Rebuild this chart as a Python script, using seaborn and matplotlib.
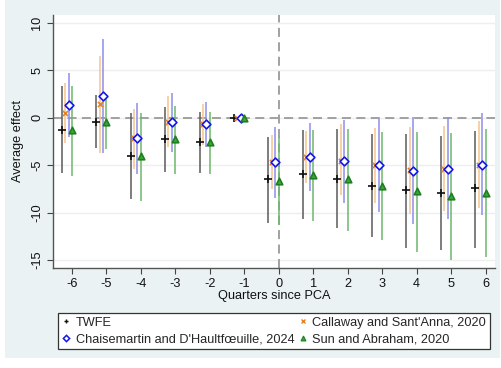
import numpy as np
import pandas as pd
import matplotlib
matplotlib.use("Agg")
import matplotlib.pyplot as plt
import seaborn as sns
from matplotlib.lines import Line2D

nan = np.nan
quarters = [-6, -5, -4, -3, -2, -1, 0, 1, 2, 3, 4, 5, 6]
x_ticklabels = ["-6", "-5", "-4", "-3", "-2", "-1", "0", "1", "2", "3", "4", "5", "6"]
y_ticks = [-15, -10, -5, 0, 5, 10]

twfe_est = [-1.3, -0.42, -4.04, -2.28, -2.55, 0, -6.5, -5.98, -6.47, -7.18, -7.63, -7.92, -7.46]
twfe_lo = [-5.87, -3.23, -8.58, -5.77, -5.8, nan, -11.09, -10.63, -11.68, -12.56, -13.69, -13.97, -13.69]
twfe_hi = [3.35, 2.4, 0.46, 1.16, 0.63, nan, -2.0, -1.3, -1.23, -1.72, -1.72, -1.93, -1.37]

cs_est = [0.53, 1.45, -2.18, -0.42, -0.67, 0, -4.71, -4.12, -4.57, -4.99, -5.52, -5.35, -4.93]
cs_lo = [-2.64, -3.7, -5.35, -3.13, -2.9, nan, -7.56, -6.93, -8.16, -8.94, -10.17, -9.82, -9.47]
cs_hi = [3.7, 6.55, 0.89, 2.29, 1.41, nan, -1.83, -1.37, -0.7, -1.12, -0.95, -0.84, -0.32]

dcdh_est = [1.34, 2.29, -2.18, -0.42, -0.7, 0, -4.71, -4.18, -4.57, -5.0, -5.6, -5.35, -4.93]
dcdh_lo = [-2.0, -3.76, -5.88, -3.59, -3.06, nan, -8.51, -7.7, -8.97, -9.93, -11.23, -10.63, -10.28]
dcdh_hi = [4.75, 8.28, 1.52, 2.64, 1.69, nan, -0.95, -0.6, -0.24, -0.14, 0.1, 0.04, 0.46]

sa_est = [-1.3, -0.42, -4.04, -2.28, -2.55, 0, -6.65, -6.05, -6.5, -7.18, -7.74, -8.27, -7.92]
sa_lo = [-6.1, -3.3, -8.76, -5.95, -5.95, nan, -11.3, -10.87, -11.93, -12.9, -14.15, -15.03, -14.74]
sa_hi = [3.35, 2.4, 0.53, 1.27, 0.63, nan, -2.0, -1.3, -1.2, -1.48, -1.48, -1.65, -1.19]

series_names = ["TWFE", "Callaway and Sant'Anna, 2020",
                "Chaisemartin and D'Haultfœuille, 2024", "Sun and Abraham, 2020"]

sns.set_theme(style="white")
plt.rcParams['font.family'] = ['Liberation Sans', 'DejaVu Sans']

FS = 9.2
BG = "#EAF2F3"
fig = plt.figure(figsize=(5.02, 3.68), dpi=100, facecolor="white")
fig.patches.append(plt.Rectangle((5/502, 10/368), 495/502, 358/368,
                                 transform=fig.transFigure, facecolor=BG,
                                 edgecolor="none", zorder=-10))
ax = fig.add_axes([53/502, 1-268/368, (495-53)/502, (268-15)/368])
ax.set_facecolor("white")

styles = [
    # name, est, lo, hi, offset, marker, mcolor, mface, ecolor, msize
    (series_names[0], twfe_est, twfe_lo, twfe_hi, -0.3, "+", "#111111", "#111111", "#5a5a5a", 26),
    (series_names[1], cs_est, cs_lo, cs_hi, -0.2, "x", "#E8821E", "#E8821E", "#F6C48C", 14),
    (series_names[2], dcdh_est, dcdh_lo, dcdh_hi, -0.1, "D", "#1515E8", "white", "#8E8EEE", 20),
    (series_names[3], sa_est, sa_lo, sa_hi, 0.0, "^", "#1E7F1E", "#39A839", "#6DB86D", 22),
]

frames = []
for name, est, lo, hi, off, *_ in styles:
    frames.append(pd.DataFrame({"series": name, "quarter": quarters,
                                "x": np.array(quarters) + off,
                                "est": est, "lo": lo, "hi": hi}))
df = pd.concat(frames, ignore_index=True)

# gridlines and reference lines
for yt in y_ticks:
    ax.axhline(yt, color="#EEEEEE", lw=1.0, zorder=0)
ax.axhline(0, color="#9A9A9A", lw=1.3, ls=(0, (5, 3)), zorder=1)
ax.axvline(0, color="#9A9A9A", lw=1.3, ls=(0, (5, 3)), zorder=1)

for name, est, lo, hi, off, marker, mc, mf, ec, ms in styles:
    d = df[df.series == name].dropna(subset=["lo", "hi"])
    ax.vlines(d["x"], d["lo"], d["hi"], color=ec, lw=1.1, zorder=2)

for name, est, lo, hi, off, marker, mc, mf, ec, ms in styles:
    d = df[df.series == name]
    if marker in ("+", "x"):
        sns.scatterplot(data=d, x="x", y="est", marker=marker, color=mc, s=ms,
                        linewidth=1.2, ax=ax, zorder=4, legend=False)
    else:
        sns.scatterplot(data=d, x="x", y="est", marker=marker, facecolor=mf,
                        edgecolor=mc, s=ms, linewidth=1.2, ax=ax, zorder=4, legend=False)

ax.set_xlim(-6.55, 6.27)
ax.set_ylim(-15.85, 10.85)
ax.set_xticks(quarters)
ax.set_xticklabels(x_ticklabels)
ax.set_yticks(y_ticks)
ax.set_yticklabels([str(v) for v in y_ticks], rotation=90, va="center")
ax.tick_params(axis="both", which="both", direction="out", length=4, width=0.8,
               color="#444444", labelsize=FS, labelcolor="#111111", pad=3)
ax.tick_params(axis="y", left=True)
ax.tick_params(axis="x", bottom=True)
for s in ["top", "right"]:
    ax.spines[s].set_visible(False)
for s in ["left", "bottom"]:
    ax.spines[s].set_color("#555555")
    ax.spines[s].set_linewidth(1.0)

ax.set_xlabel("Quarters since PCA", fontsize=FS, color="#111111", labelpad=0)
ax.set_ylabel("Average effect", fontsize=FS, color="#111111", labelpad=5)

handles = [
    Line2D([], [], ls="none", marker="+", color="#111111", ms=3.5, mew=1.0),
    Line2D([], [], ls="none", marker="D", mfc="white", mec="#1515E8", ms=3.2, mew=1.1),
    Line2D([], [], ls="none", marker="x", color="#E8821E", ms=3.2, mew=1.0),
    Line2D([], [], ls="none", marker="^", mfc="#39A839", mec="#1E7F1E", ms=3.5, mew=0.8),
]
labels = [series_names[0], series_names[2], series_names[1], series_names[3]]
leg = fig.legend(handles, labels, ncol=2, loc="center",
                 bbox_to_anchor=(274/502, 1-331/368), fontsize=FS,
                 frameon=True, fancybox=False, framealpha=1, edgecolor="#333333",
                 handlelength=0.6, handletextpad=0.45, columnspacing=0.35,
                 labelspacing=0.35, borderpad=0.3, borderaxespad=0)
leg.get_frame().set_linewidth(0.9)
leg.get_frame().set_facecolor("white")

fig.savefig("out.png", dpi=100, facecolor="white")
